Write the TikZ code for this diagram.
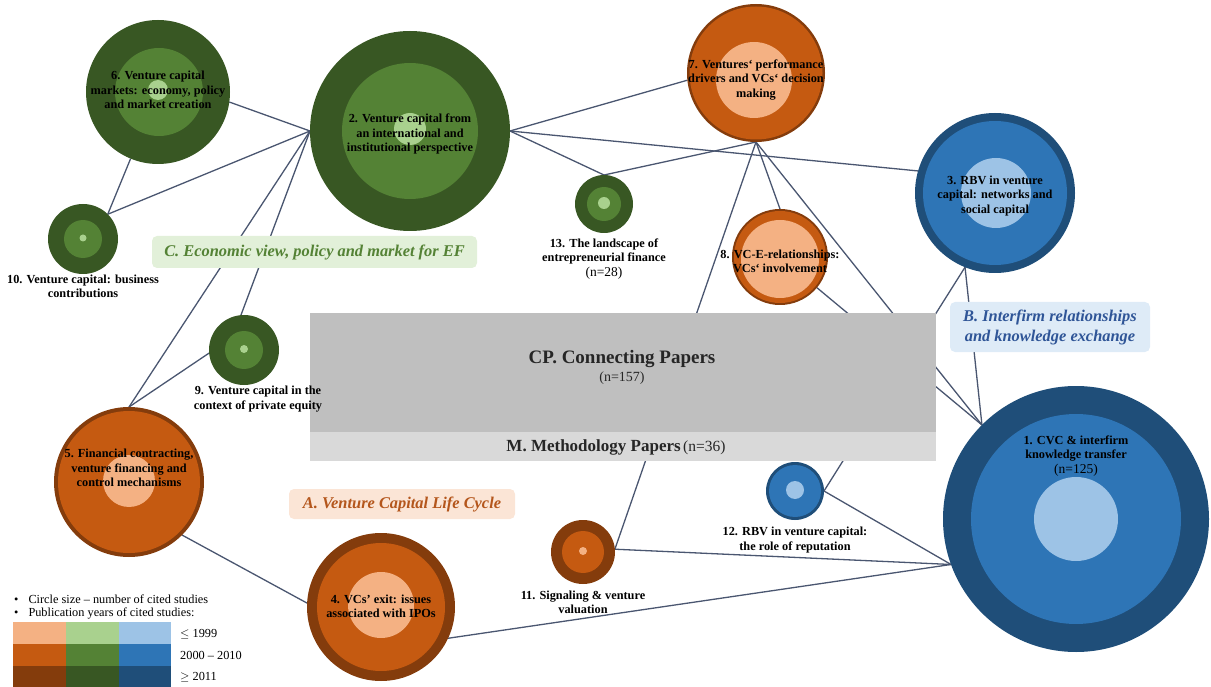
\documentclass[tikz,border=0pt]{standalone}
\usepackage{fontspec}
\setmainfont{Liberation Serif}
\usetikzlibrary{backgrounds}
\definecolor{ol}{HTML}{F4B183}
\definecolor{om}{HTML}{C55A11}
\definecolor{od}{HTML}{843C0C}
\definecolor{gl}{HTML}{A9D18E}
\definecolor{gm}{HTML}{548235}
\definecolor{gd}{HTML}{385723}
\definecolor{bl}{HTML}{9DC3E6}
\definecolor{bm}{HTML}{2E75B6}
\definecolor{bd}{HTML}{1F4E79}
\definecolor{edgec}{HTML}{4A5670}
\definecolor{cpgray}{HTML}{BFBFBF}
\definecolor{mgray}{HTML}{D9D9D9}
\definecolor{labCfill}{HTML}{E2F0D9}
\definecolor{labCtext}{HTML}{548235}
\definecolor{labBfill}{HTML}{DEEBF7}
\definecolor{labBtext}{HTML}{2F5597}
\definecolor{labAfill}{HTML}{FBE5D6}
\definecolor{labAtext}{HTML}{B4561C}
\tikzset{
  ring/.style={circle, inner sep=0pt, outer sep=0pt},
  edge/.style={draw=edgec, line width=1.3pt},
  lbl/.style={font=\fontsize{12.3}{14.3}\selectfont\bfseries, align=center, text=black, inner sep=0pt},
  cat/.style={rounded corners=5pt, inner sep=0pt, font=\fontsize{16.4}{20}\selectfont\bfseries\itshape, align=center},
  leg/.style={font=\fontsize{12.3}{14}\selectfont, anchor=west, inner sep=0pt},
}
\begin{document}
\begin{tikzpicture}[x=1pt,y=-1pt]
\useasboundingbox (0,0) rectangle (1211,687);
% ---------- bubbles (outer nodes) ----------
\node[ring, fill=bd, minimum size=266pt] (n1) at (1076,519) {};
\fill[bm] (1076,519) circle[radius=105pt];
\fill[bl] (1076,519) circle[radius=42pt];
\node[ring, fill=gd, minimum size=200pt] (n2) at (410,131) {};
\fill[gm] (410,131) circle[radius=68pt];
\fill[gl] (410,129) circle[radius=16pt];
\node[ring, fill=bd, minimum size=160pt] (n3) at (995,193) {};
\fill[bm] (995,193) circle[radius=72pt];
\fill[bl] (996,193) circle[radius=35pt];
\node[ring, fill=od, minimum size=148pt] (n4) at (381,607) {};
\fill[om] (381,607) circle[radius=64pt];
\fill[ol] (381,605) circle[radius=33pt];
\node[ring, fill=od, minimum size=150pt] (n5) at (129,482) {};
\fill[om] (129,482) circle[radius=71pt];
\fill[ol] (129,481) circle[radius=26pt];
\node[ring, fill=gd, minimum size=144pt] (n6) at (158,92) {};
\fill[gm] (159,92) circle[radius=44pt];
\fill[gl] (158,90) circle[radius=10pt];
\node[ring, fill=od, minimum size=138pt] (n7) at (756,73) {};
\fill[om] (756,73) circle[radius=66.5pt];
\fill[ol] (754,80) circle[radius=38pt];
\node[ring, fill=od, minimum size=96pt] (n8) at (780,257) {};
\fill[om] (780,257) circle[radius=46pt];
\fill[ol] (780,259) circle[radius=39pt];
\node[ring, fill=gd, minimum size=70pt] (n9) at (244,350) {};
\fill[gm] (244,350) circle[radius=19pt];
\fill[gl] (244,349) circle[radius=4pt];
\node[ring, fill=gd, minimum size=70pt] (n10) at (83,239) {};
\fill[gm] (83,239) circle[radius=19pt];
\fill[gl] (83,238) circle[radius=3.5pt];
\node[ring, fill=od, minimum size=64pt] (n11) at (583,552) {};
\fill[om] (583,552) circle[radius=21pt];
\fill[ol] (583,551) circle[radius=4pt];
\node[ring, fill=bd, minimum size=58pt] (n12) at (795,491) {};
\fill[bm] (795,491) circle[radius=26pt];
\fill[bl] (795,490) circle[radius=9pt];
\node[ring, fill=gd, minimum size=58pt] (n13) at (604,204) {};
\fill[gm] (604,204) circle[radius=17pt];
\fill[gl] (604,203) circle[radius=6pt];
% ---------- connectors (behind everything) ----------
\begin{scope}[on background layer]
\draw[edge] (n6.-8) -- (n2.west);
\draw[edge] (n10.45) -- (n6);
\draw[edge] (n10.45) -- (n2.west);
\draw[edge] (n9.95) -- (n2.west);
\draw[edge] (n5.north) -- (n2.west);
\draw[edge] (n9.185) -- (n5.north);
\draw[edge] (n5.-45) -- (n4.177);
\draw[edge] (n2.east) -- (n7.186);
\draw[edge] (n2.east) -- (n3.164);
\draw[edge] (n2.east) -- (n13.north);
\draw[edge] (n13.north) -- (n7.south);
\draw[edge] (n7.south) -- (n8.north);
\draw[edge] (n7.south) -- (n11.5);
\draw[edge] (n7.south) -- (n1.135);
\draw[edge] (n8) -- (n1.135);
\draw[edge] (n3.-112) -- (n1.135);
\draw[edge] (n3.-112) -- (n12.0);
\draw[edge] (n12.0) -- (n1.200);
\draw[edge] (n11.5) -- (n1.200);
\draw[edge] (n4.-25) -- (n1.200);
\end{scope}
% ---------- central boxes ----------
\node[fill=cpgray, minimum width=626pt, minimum height=119pt, anchor=north west, inner sep=0pt] (cp) at (310,313) {};
\node[fill=mgray, minimum width=626pt, minimum height=29pt, anchor=north west, inner sep=0pt] (mp) at (310,432) {};
\node[align=center, inner sep=0pt, text=black!85] (cpt) at (622,367) {{\fontsize{19}{22}\selectfont\bfseries CP. Connecting Papers}\\[3pt]{\fontsize{14}{16}\selectfont (n=157)}};
\node[inner sep=0pt, text=black!85] (mpt) at (616,447) {{\fontsize{17}{19}\selectfont\bfseries M. Methodology Papers} {\fontsize{15.5}{18}\selectfont(n=36)}};
% ---------- category labels ----------
\node[cat, fill=labCfill, text=labCtext, minimum width=325pt, minimum height=32pt] (labC) at (314.5,252) {C. Economic view, policy and market for EF};
\node[cat, fill=labBfill, text=labBtext, minimum width=200pt, minimum height=50pt] (labB) at (1050,327) {B. Interfirm relationships\\and knowledge exchange};
\node[cat, fill=labAfill, text=labAtext, minimum width=226pt, minimum height=30pt] (labA) at (402,504) {A. Venture Capital Life Cycle};
% ---------- bubble texts ----------
\node[lbl] (t1) at (1076,456) {1. CVC \& interfirm\\knowledge transfer\\{\mdseries\fontsize{13.5}{14.3}\selectfont (n=125)}};
\node[lbl] (t2) at (410,134) {2. Venture capital from\\an international and\\institutional perspective};
\node[lbl] (t3) at (995,196) {3. RBV in venture\\capital: networks and\\social capital};
\node[lbl] (t4) at (381,606) {4. VCs' exit: issues\\associated with IPOs};
\node[lbl] (t5) at (129,468) {5. Financial contracting,\\venture financing and\\control mechanisms};
\node[lbl] (t6) at (158,90) {6. Venture capital\\markets: economy, policy\\and market creation};
\node[lbl] (t7) at (756,80) {7. Ventures‘ performance\\drivers and VCs‘ decision\\making};
\node[lbl] (t8) at (780,261) {8. VC-E-relationships:\\VCs‘ involvement};
\node[lbl] (t9) at (258,399) {9. Venture capital in the\\context of private equity};
\node[lbl] (t10) at (83,286) {10. Venture capital: business\\contributions};
\node[lbl] (t11) at (583,602) {11. Signaling \& venture\\valuation};
\node[lbl] (t12) at (795,540) {12. RBV in venture capital:\\the role of reputation};
\node[lbl] (t13) at (604,259) {13. The landscape of\\entrepreneurial finance\\{\mdseries\fontsize{13.5}{14.3}\selectfont (n=28)}};
% ---------- legend ----------
\node[leg] (lg1) at (14,599) {\textbullet\hspace{10pt}Circle size – number of cited studies};
\node[leg] (lg2) at (14,613) {\textbullet\hspace{10pt}Publication years of cited studies:};
\fill[ol] (13,622) rectangle (66,644);
\fill[gl] (66,622) rectangle (119,644);
\fill[bl] (119,622) rectangle (171,644);
\fill[om] (13,644) rectangle (66,666);
\fill[gm] (66,644) rectangle (119,666);
\fill[bm] (119,644) rectangle (171,666);
\fill[od] (13,666) rectangle (66,687);
\fill[gd] (66,666) rectangle (119,687);
\fill[bd] (119,666) rectangle (171,687);
\node[leg] (lg3) at (180,634) {$\leq$ 1999};
\node[leg] (lg4) at (180,655) {2000 – 2010};
\node[leg] (lg5) at (180,677) {$\geq$ 2011};
\end{tikzpicture}
\end{document}
